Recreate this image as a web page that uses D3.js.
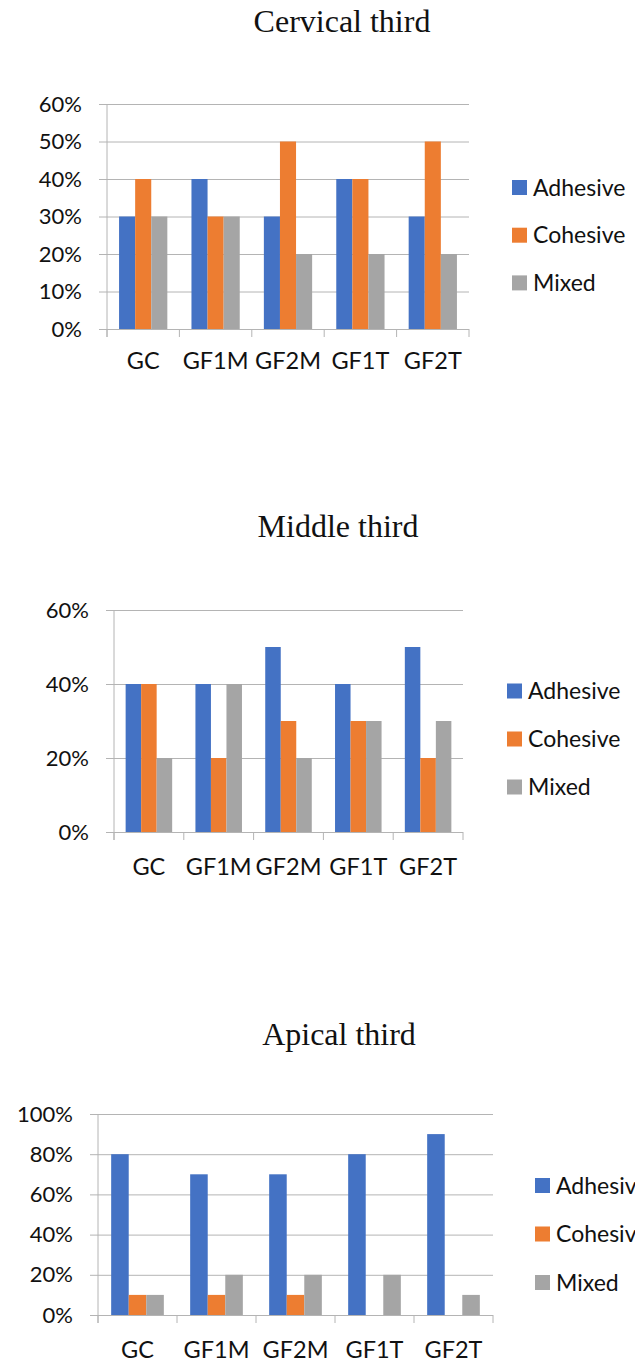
<!DOCTYPE html>
<html>
<head>
<meta charset="utf-8">
<script src="https://cdn.jsdelivr.net/npm/d3@7"></script>
<style>
    body { margin: 0; background: #fff; }
    svg { display: block; }
</style>
</head>
<body>
<svg id="chart" width="635" height="1363"></svg>
<script>
// data
const categories = ["GC", "GF1M", "GF2M", "GF1T", "GF2T"];
const seriesNames = ["Adhesive", "Cohesive", "Mixed"];
const seriesColors = ["#4472c4", "#ed7d31", "#a5a5a5"];

const cervicalAdhesive = [30, 40, 30, 40, 30];
const cervicalCohesive = [40, 30, 50, 40, 50];
const cervicalMixed = [30, 30, 20, 20, 20];
const cervicalTicks = [0, 10, 20, 30, 40, 50, 60];

const middleAdhesive = [40, 40, 50, 40, 50];
const middleCohesive = [40, 20, 30, 30, 20];
const middleMixed = [20, 40, 20, 30, 30];
const middleTicks = [0, 20, 40, 60];

const apicalAdhesive = [80, 70, 70, 80, 90];
const apicalCohesive = [10, 10, 10, 0, 0];
const apicalMixed = [10, 20, 20, 20, 10];
const apicalTicks = [0, 20, 40, 60, 80, 100];

const svg = d3.select("#chart");
const gridColor = "#b4b4b4";
const labelFont = "Lato, 'Open Sans', sans-serif";

function drawChart(c) {
    let g = svg.append("g");

    // title
    g.append("text")
        .attr("x", c.titleX)
        .attr("y", c.titleY)
        .attr("text-anchor", "middle")
        .attr("font-family", "'Liberation Serif', 'Times New Roman', serif")
        .attr("font-size", 32)
        .attr("fill", "#111")
        .text(c.title);

    let y = d3.scaleLinear()
        .domain([0, d3.max(c.ticks)])
        .range([c.bottom, c.top]);

    let x0 = d3.scaleBand()
        .domain(categories)
        .range([c.left, c.right])
        .padding(0);

    // gap between groups is 150% of a bar
    let x1 = d3.scaleBand()
        .domain(seriesNames)
        .range([0, x0.bandwidth()])
        .paddingInner(0)
        .paddingOuter(0.75);

    // y axis: gridlines with outside ticks
    let yAxis = d3.axisLeft(y)
        .tickValues(c.ticks)
        .tickSize(0)
        .tickFormat(d => d + "%");

    let ya = g.append("g")
        .attr("transform", `translate(${c.left},0)`)
        .call(yAxis);
    ya.select(".domain").remove();
    ya.selectAll(".tick line")
        .attr("stroke", gridColor)
        .attr("x1", -8)
        .attr("x2", c.right - c.left);
    ya.selectAll(".tick text")
        .attr("x", -8 - 17)
        .attr("font-family", labelFont)
        .attr("font-size", 22)
        .attr("fill", "#111");

    // vertical axis line
    g.append("line")
        .attr("x1", c.left).attr("x2", c.left)
        .attr("y1", c.top).attr("y2", c.bottom + 8)
        .attr("stroke", gridColor);

    // category separators below the axis
    let bounds = categories.map(d => x0(d)).concat([c.right]);
    g.selectAll(".sep")
        .data(bounds)
        .enter()
        .append("line")
        .attr("x1", d => d).attr("x2", d => d)
        .attr("y1", c.bottom).attr("y2", c.bottom + 8)
        .attr("stroke", gridColor);

    // bars
    let groups = g.selectAll(".grp")
        .data(categories)
        .enter()
        .append("g")
        .attr("transform", d => `translate(${x0(d)},0)`);

    groups.selectAll("rect")
        .data((d, i) => seriesNames.map((s, k) => ({ s: s, k: k, v: c.values[k][i] })))
        .enter()
        .append("rect")
        .attr("x", d => x1(d.s))
        .attr("width", x1.bandwidth())
        .attr("y", d => y(d.v))
        .attr("height", d => y(0) - y(d.v))
        .attr("fill", d => seriesColors[d.k]);

    // category labels
    g.selectAll(".cat")
        .data(categories)
        .enter()
        .append("text")
        .attr("x", d => x0(d) + x0.bandwidth() / 2)
        .attr("y", c.bottom + c.catGap)
        .attr("text-anchor", "middle")
        .attr("font-family", labelFont)
        .attr("font-size", 23.5)
        .attr("fill", "#111")
        .text(d => d);

    // legend (the apical one runs past the right edge, as in the original)
    let leg = g.selectAll(".leg")
        .data(seriesNames)
        .enter()
        .append("g")
        .attr("transform", (d, i) => `translate(${c.legX},${c.legY + i * c.legStep})`);
    leg.append("rect")
        .attr("x", 0).attr("y", -7.5)
        .attr("width", 15).attr("height", 15)
        .attr("fill", (d, i) => seriesColors[i]);
    leg.append("text")
        .attr("x", 21)
        .attr("dy", "0.35em")
        .attr("font-family", labelFont)
        .attr("font-size", 23)
        .attr("fill", "#111")
        .text(d => d);
}

drawChart({
    title: "Cervical third", titleX: 342, titleY: 32,
    values: [cervicalAdhesive, cervicalCohesive, cervicalMixed], ticks: cervicalTicks,
    left: 107, right: 469, top: 104, bottom: 329, catGap: 40,
    legX: 512, legY: 187.5, legStep: 47.7
});

drawChart({
    title: "Middle third", titleX: 338, titleY: 537,
    values: [middleAdhesive, middleCohesive, middleMixed], ticks: middleTicks,
    left: 114, right: 463, top: 610, bottom: 832, catGap: 43,
    legX: 507, legY: 691, legStep: 48
});

drawChart({
    title: "Apical third", titleX: 339, titleY: 1045,
    values: [apicalAdhesive, apicalCohesive, apicalMixed], ticks: apicalTicks,
    left: 98, right: 493, top: 1114, bottom: 1315, catGap: 43,
    legX: 535, legY: 1185.5, legStep: 48.5
});
</script>
</body>
</html>
